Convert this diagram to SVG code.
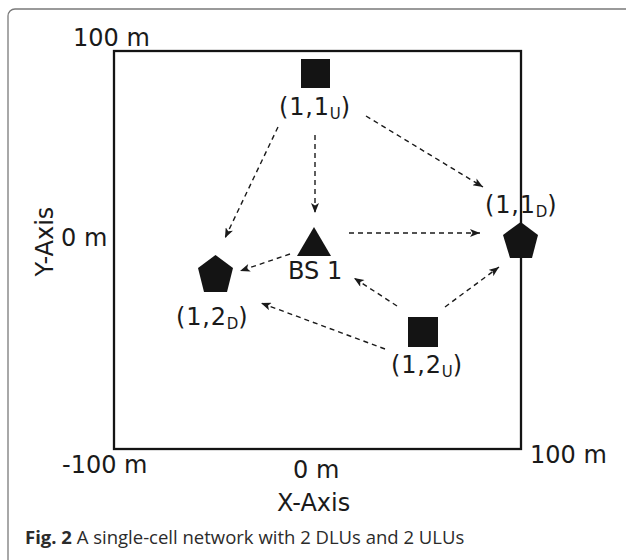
<svg xmlns="http://www.w3.org/2000/svg" width="626" height="560" viewBox="0 0 626 560">
<style>
.lbl{font-family:"DejaVu Sans",Verdana,sans-serif;font-size:24px;fill:#1a1a1a}
.nl{font-family:"DejaVu Sans",Verdana,sans-serif;font-size:24px;fill:#1a1a1a;letter-spacing:0.8px}
.sub{font-size:15px;letter-spacing:0}
.shape{fill:#141414}
.conn{fill:none;stroke:#1a1a1a;stroke-width:1.4;stroke-dasharray:5 4;marker-end:url(#ah)}
.cap{font-family:"Open Sans","Liberation Sans",sans-serif;font-size:18.5px;fill:#2b2b2b}
</style>
<defs>
<marker id="ah" viewBox="0 0 10 8" refX="10" refY="4" markerWidth="11" markerHeight="8" orient="auto" markerUnits="userSpaceOnUse">
<path d="M0,0 L10,4 L0,8 L2.5,4 z" fill="#1a1a1a"/>
</marker>
</defs>
<rect width="626" height="560" fill="#ffffff"/>
<rect x="8" y="9" width="660" height="600" rx="7" ry="7" fill="none" stroke="#7a7a7a" stroke-width="1.3"/>
<g id="area">
<rect x="114" y="51" width="407" height="398" fill="none" stroke="#141414" stroke-width="2.3"/>
</g>
<g id="axes">
<text class="lbl" x="73" y="46">100 m</text>
<text class="lbl" x="61" y="246">0 m</text>
<text class="lbl" x="62" y="473">-100 m</text>
<text class="lbl" x="293" y="478">0 m</text>
<text class="lbl" x="530" y="463">100 m</text>
<text class="lbl" x="277" y="511">X-Axis</text>
<text class="lbl" text-anchor="middle" transform="translate(53,241.5) rotate(-90)">Y-Axis</text>
</g>
<g id="connectors">
<line class="conn" x1="315" y1="135" x2="315" y2="213"/>
<line class="conn" x1="278" y1="127" x2="225" y2="238"/>
<line class="conn" x1="366" y1="116" x2="483" y2="187"/>
<line class="conn" x1="349" y1="233" x2="480" y2="233"/>
<line class="conn" x1="290" y1="254" x2="240" y2="271"/>
<line class="conn" x1="397" y1="306" x2="354" y2="278"/>
<line class="conn" x1="445" y1="307" x2="499" y2="267"/>
<line class="conn" x1="385" y1="349" x2="261" y2="303"/>
</g>
<g id="ulu11">
<rect class="shape" x="301" y="59" width="29" height="29"/>
<text class="nl" x="279" y="115">(1,1<tspan class="sub" dy="4">U</tspan><tspan dy="-4">)</tspan></text>
</g>
<g id="ulu12">
<rect class="shape" x="408" y="317" width="30" height="30"/>
<text class="nl" x="391" y="373">(1,2<tspan class="sub" dy="4">U</tspan><tspan dy="-4">)</tspan></text>
</g>
<g id="bs1">
<polygon class="shape" points="314,227 331,256 297,256"/>
<text class="lbl" x="288" y="279">BS 1</text>
</g>
<g id="dlu11">
<polygon class="shape" points="520.7,222 538,235 532,258 510,258 503,235"/>
<text class="nl" x="485" y="213">(1,1<tspan class="sub" dy="4">D</tspan><tspan dy="-4">)</tspan></text>
</g>
<g id="dlu12">
<polygon class="shape" points="215.5,255 233,268 227,292 204,292 198,268"/>
<text class="nl" x="176" y="325">(1,2<tspan class="sub" dy="4">D</tspan><tspan dy="-4">)</tspan></text>
</g>
<g id="caption">
<text class="cap" x="25" y="544"><tspan font-weight="bold">Fig. 2</tspan> A single-cell network with 2 DLUs and 2 ULUs</text>
</g>
</svg>
